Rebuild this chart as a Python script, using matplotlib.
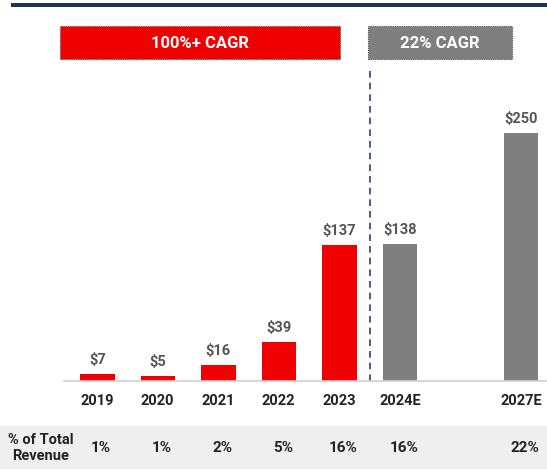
import matplotlib
matplotlib.use("Agg")
import matplotlib.pyplot as plt
from matplotlib.patches import Rectangle

years = ["2019", "2020", "2021", "2022", "2023", "2024E", "2027E"]
values = [7, 5, 16, 39, 137, 138, 250]
positions = [0, 1, 2, 3, 4, 5, 7]
is_estimate = [False, False, False, False, False, True, True]
pct_revenue = ["1%", "1%", "2%", "5%", "16%", "16%", "22%"]
cagr_labels = ["100%+ CAGR", "22% CAGR"]

W, H = 547, 471
fig = plt.figure(figsize=(W / 100, H / 100), dpi=100)
plt.rcParams['font.family'] = ['Roboto', 'DejaVu Sans']

def fx(px):
    return px / W

def fy(py):
    return 1 - py / H

# axes: baseline at y=381px, top at 70px; x=0 -> 97px
x_left, x_right = -0.55, 7.43
ax_l, ax_r = 64, 547
ax = fig.add_axes([fx(ax_l), fy(381), fx(ax_r - ax_l), (381 - 70) / H])
ax.set_xlim(x_left, x_right)
ax.set_ylim(0, 314)

red = "#f00000"
grey = "#7f7f7f"
colors = [grey if e else red for e in is_estimate]
ax.bar(positions, values, width=0.57, color=colors, zorder=2)
for p, v in zip(positions, values):
    ax.text(p, v + 7, f"${v}", ha="center", va="bottom", fontsize=10.5,
            fontweight="bold", color="#555555")

ax.axvline(4.5, color="#2e4266", linestyle=(0, (4, 3)), linewidth=1.2, zorder=1)
for s in ["top", "right", "left"]:
    ax.spines[s].set_visible(False)
ax.spines["bottom"].set_color("#d0d0d0")
ax.spines["bottom"].set_linewidth(1.2)
ax.set_yticks([])
ax.set_xticks([])

# year labels
for p, y in zip(positions, years):
    xpx = 97 + p * 60.57
    fig.text(fx(xpx), fy(401), y, ha="center", va="center", fontsize=10.5,
             fontweight="bold", color="#222222")

# top line
fig.add_artist(Rectangle((fx(11), fy(7)), fx(W - 11), 4 / H, transform=fig.transFigure,
                         color="#1c3553", lw=0))

# CAGR boxes
boxes = [(60, 340, red), (368, 512, grey)]
for (x0, x1, c), lab in zip(boxes, cagr_labels):
    fig.add_artist(Rectangle((fx(x0), fy(59)), fx(x1 - x0), 33 / H, transform=fig.transFigure,
                             facecolor=c, edgecolor="#555555", linestyle=(0, (1, 1)), lw=0.8))
    fig.text(fx((x0 + x1) / 2), fy(43), lab, ha="center", va="center", fontsize=12,
             fontweight="bold", color="white")

# bottom band
fig.add_artist(Rectangle((0, fy(469)), 1, (469 - 426) / H, transform=fig.transFigure,
                         color="#efefef", lw=0))
fig.text(fx(41), fy(448), "% of Total\nRevenue", ha="center", va="center", fontsize=10.5,
         fontweight="bold", color="#222222", linespacing=1.15)
for p, s in zip(positions, pct_revenue):
    xpx = 97 + p * 60.57 + 4
    fig.text(fx(xpx), fy(448), s, ha="center", va="center", fontsize=11,
             fontweight="bold", color="#222222")

fig.savefig("out.png", dpi=100, facecolor="white")
